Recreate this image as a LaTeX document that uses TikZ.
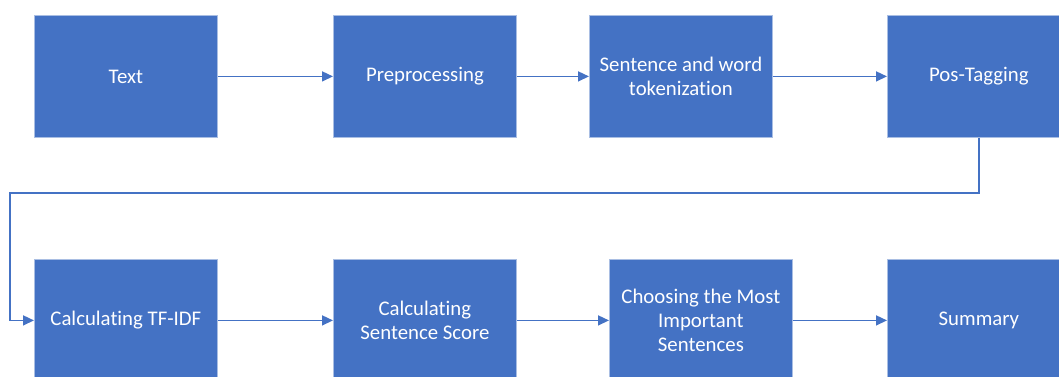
\documentclass[tikz,border=0pt]{standalone}
\usepackage{fontspec}
\setmainfont[Ligatures={NoCommon}]{Carlito}
\usetikzlibrary{arrows.meta}
\definecolor{obox}{HTML}{4472C4}
\definecolor{oedge}{HTML}{A9BEE3}
\begin{document}
\begin{tikzpicture}[x=1pt,y=-1pt,
 box/.style={fill=obox, draw=oedge, line width=0.8pt, text=white,
   font=\fontsize{20.8}{24}\selectfont, align=center,
   minimum width=183pt, minimum height=122pt, inner sep=0pt, anchor=north west},
 conn/.style={draw=obox, line width=1.5pt, -{Triangle[length=11pt,width=10pt]}}]
\useasboundingbox (0,0) rectangle (1059,376);
\clip (0,0) rectangle (1059,376);
\node[box] (txt) at (34,15) {Text};
\node[box] (pre) at (333,15) {Preprocessing};
\node[box] (tok) at (589,15) {Sentence and word\\tokenization};
\node[box] (pos) at (887,15) {Pos-Tagging};
\node[box] (tf) at (34,259) {Calculating TF-IDF};
\node[box] (sc) at (333,259) {Calculating\\Sentence Score};
\node[box] (ch) at (609,259) {Choosing the Most\\Important\\Sentences};
\node[box] (sum) at (887,259) {Summary};
\coordinate (k1) at (10,193);
\draw[conn] (txt.east) -- (pre.west);
\draw[conn] (pre.east) -- (tok.west);
\draw[conn] (tok.east) -- (pos.west);
\draw[conn] (pos.south) |- (k1) |- (tf.west);
\draw[conn] (tf.east) -- (sc.west);
\draw[conn] (sc.east) -- (ch.west);
\draw[conn] (ch.east) -- (sum.west);
\end{tikzpicture}
\end{document}
